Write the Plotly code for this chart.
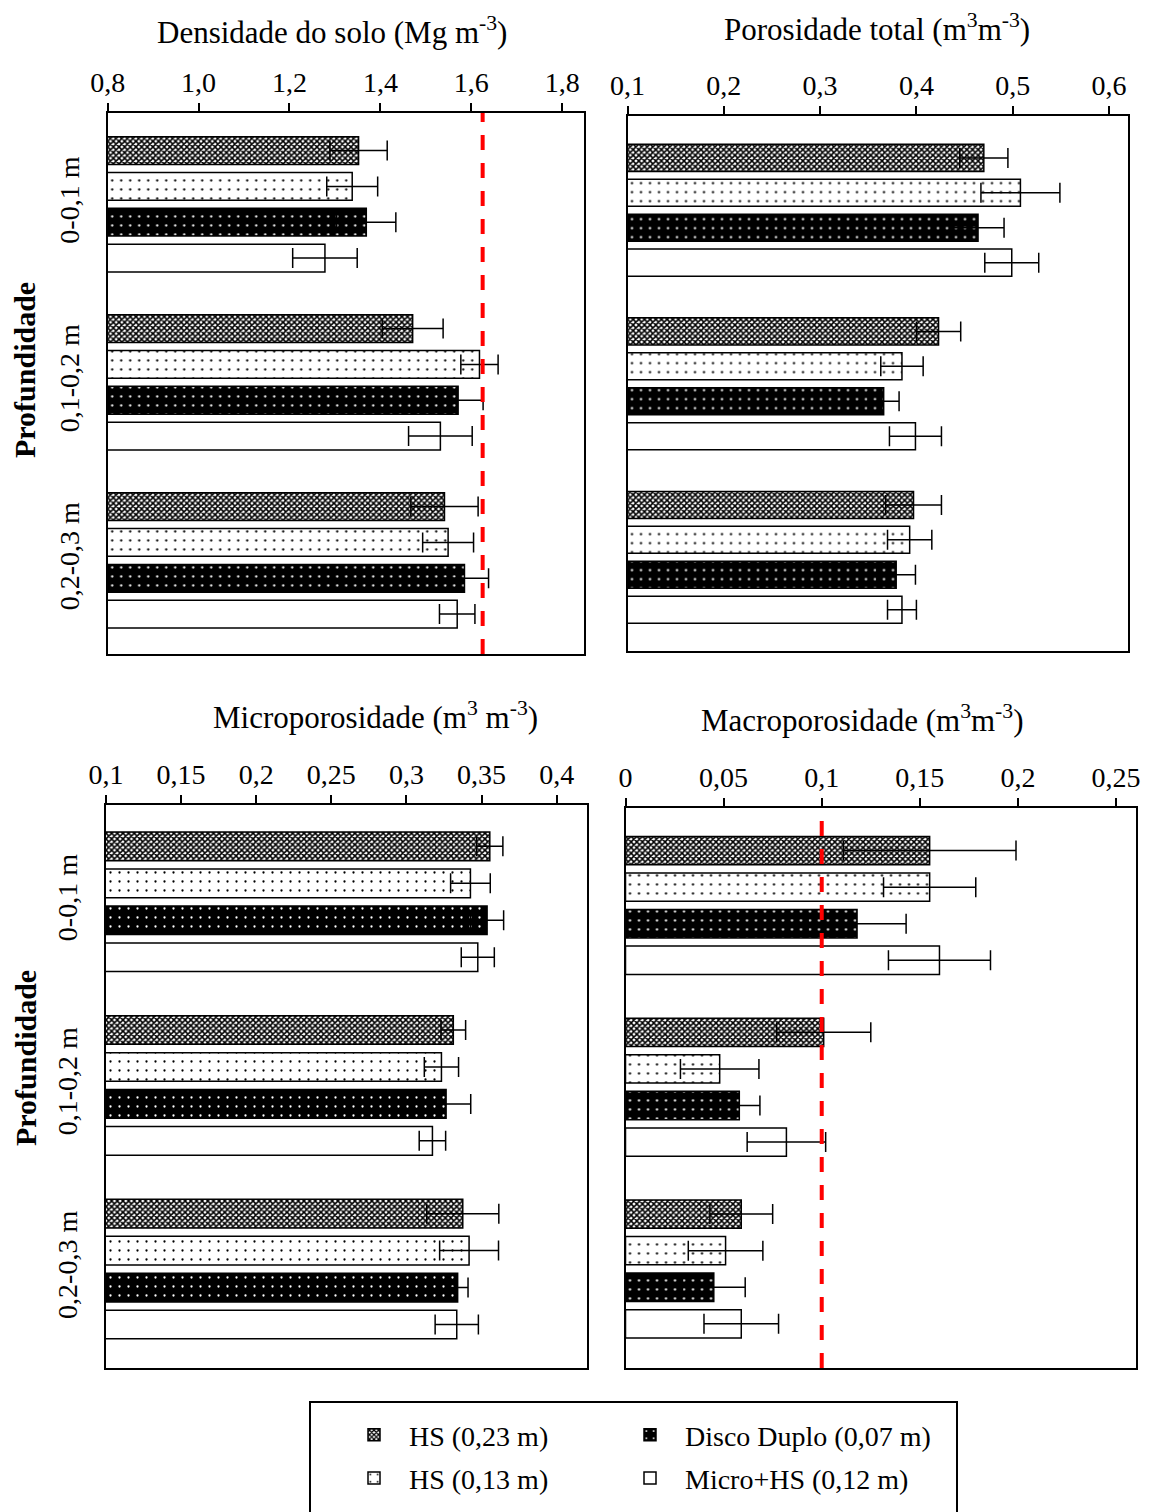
import plotly.graph_objects as go

# ---------------- data ----------------
depths = ["0-0,1 m", "0,1-0,2 m", "0,2-0,3 m"]
treatments = ["HS (0,23 m)", "HS (0,13 m)", "Disco Duplo (0,07 m)", "Micro+HS (0,12 m)"]

# Densidade do solo (Mg m-3)
dens_hs23 = [1.352, 1.471, 1.541]
dens_hs13 = [1.338, 1.618, 1.549]
dens_dd = [1.369, 1.571, 1.585]
dens_micro = [1.278, 1.532, 1.569]
dens_hs23_err = [0.063, 0.067, 0.074]
dens_hs13_err = [0.056, 0.041, 0.056]
dens_dd_err = [0.065, 0.055, 0.053]
dens_micro_err = [0.071, 0.070, 0.039]
dens_ref = 1.625

# Porosidade total (m3 m-3)
pt_hs23 = [0.470, 0.423, 0.397]
pt_hs13 = [0.508, 0.385, 0.393]
pt_dd = [0.464, 0.366, 0.379]
pt_micro = [0.499, 0.399, 0.385]
pt_hs23_err = [0.025, 0.023, 0.029]
pt_hs13_err = [0.041, 0.022, 0.023]
pt_dd_err = [0.027, 0.016, 0.020]
pt_micro_err = [0.028, 0.027, 0.015]

# Microporosidade (m3 m-3)
mi_hs23 = [0.3555, 0.3312, 0.3375]
mi_hs13 = [0.3426, 0.3233, 0.3417]
mi_dd = [0.3537, 0.3264, 0.3341]
mi_micro = [0.3475, 0.3173, 0.3335]
mi_hs23_err = [0.0087, 0.0082, 0.024]
mi_hs13_err = [0.0132, 0.0114, 0.0196]
mi_dd_err = [0.011, 0.0164, 0.0069]
mi_micro_err = [0.011, 0.0088, 0.0144]

# Macroporosidade (m3 m-3)
ma_hs23 = [0.155, 0.101, 0.059]
ma_hs13 = [0.155, 0.048, 0.051]
ma_dd = [0.118, 0.058, 0.045]
ma_micro = [0.160, 0.082, 0.059]
ma_hs23_err = [0.044, 0.024, 0.016]
ma_hs13_err = [0.0235, 0.020, 0.019]
ma_dd_err = [0.025, 0.0105, 0.016]
ma_micro_err = [0.026, 0.020, 0.019]
ma_ref = 0.10

# tick labels
dens_tickvals = [0.8, 1.0, 1.2, 1.4, 1.6, 1.8]
dens_ticktext = ["0,8", "1,0", "1,2", "1,4", "1,6", "1,8"]
pt_tickvals = [0.1, 0.2, 0.3, 0.4, 0.5, 0.6]
pt_ticktext = ["0,1", "0,2", "0,3", "0,4", "0,5", "0,6"]
mi_tickvals = [0.1, 0.15, 0.2, 0.25, 0.3, 0.35, 0.4]
mi_ticktext = ["0,1", "0,15", "0,2", "0,25", "0,3", "0,35", "0,4"]
ma_tickvals = [0, 0.05, 0.1, 0.15, 0.2, 0.25]
ma_ticktext = ["0", "0,05", "0,1", "0,15", "0,2", "0,25"]

titles = ["Densidade do solo (Mg m<sup>-3</sup>)",
          "Porosidade total (m<sup>3</sup>m<sup>-3</sup>)",
          "Microporosidade (m<sup>3</sup> m<sup>-3</sup>)",
          "Macroporosidade (m<sup>3</sup>m<sup>-3</sup>)"]
ylabel = "Profundidade"

# ---------------- styling ----------------
W, H = 1154, 1512
FONT = "Liberation Serif"

def px_x(v):
    return v / W

def px_y(v):
    return 1 - v / H

patterns = [
    dict(shape="x", size=4, solidity=0.62, fgcolor="black", bgcolor="white", fillmode="replace"),
    dict(shape=".", size=9, solidity=0.05, fgcolor="black", bgcolor="white", fillmode="replace"),
    dict(shape=".", size=9, solidity=0.05, fgcolor="white", bgcolor="black", fillmode="replace"),
    dict(shape="", fgcolor="black", bgcolor="white"),
]
fills = ["white", "white", "black", "white"]
legends = ["legend", "legend", "legend2", "legend2"]

panels = [
    dict(vals=[dens_hs23, dens_hs13, dens_dd, dens_micro],
         errs=[dens_hs23_err, dens_hs13_err, dens_dd_err, dens_micro_err],
         xdom=[px_x(107.7), px_x(584)], ydom=[px_y(654), px_y(113)],
         xrange=[0.8, 1.848], tv=dens_tickvals, tt=dens_ticktext,
         yrange=[2.526, -0.513], ylab=True, title=(332, 30)),
    dict(vals=[pt_hs23, pt_hs13, pt_dd, pt_micro],
         errs=[pt_hs23_err, pt_hs13_err, pt_dd_err, pt_micro_err],
         xdom=[px_x(627.5), px_x(1127.7)], ydom=[px_y(651), px_y(115.7)],
         xrange=[0.1, 0.6194], tv=pt_tickvals, tt=pt_ticktext,
         yrange=[2.54, -0.545], ylab=False, title=(877, 28)),
    dict(vals=[mi_hs23, mi_hs13, mi_dd, mi_micro],
         errs=[mi_hs23_err, mi_hs13_err, mi_dd_err, mi_micro_err],
         xdom=[px_x(106), px_x(586.7)], ydom=[px_y(1367.7), px_y(805)],
         xrange=[0.1, 0.42], tv=mi_tickvals, tt=mi_ticktext,
         yrange=[2.537, -0.527], ylab=True, title=(375, 715)),
    dict(vals=[ma_hs23, ma_hs13, ma_dd, ma_micro],
         errs=[ma_hs23_err, ma_hs13_err, ma_dd_err, ma_micro_err],
         xdom=[px_x(625.5), px_x(1135.7)], ydom=[px_y(1368), px_y(808)],
         xrange=[0, 0.26], tv=ma_tickvals, tt=ma_ticktext,
         yrange=[2.545, -0.536], ylab=False, title=(862, 718)),
]

fig = go.Figure()
layout = dict(
    template="none",
    width=W, height=H, margin=dict(l=0, r=0, t=0, b=0, autoexpand=False),
    paper_bgcolor="white", plot_bgcolor="white",
    font=dict(family=FONT, size=27, color="black"),
    barmode="group", bargap=0.195, bargroupgap=0.225,
    annotations=[], shapes=[],
)

for p, pan in enumerate(panels):
    sfx = "" if p == 0 else str(p + 1)
    xref, yref = "x" + sfx, "y" + sfx
    for t in range(4):
        fig.add_trace(go.Bar(
            y=depths, x=pan["vals"][t], orientation="h",
            name=treatments[t], xaxis=xref, yaxis=yref,
            marker=dict(color=fills[t], pattern=patterns[t],
                        line=dict(color="black", width=1.5)),
            error_x=dict(type="data", array=pan["errs"][t], symmetric=True,
                         color="black", thickness=1.5, width=10),
            showlegend=(p == 0), legend=legends[t], legendgroup=treatments[t],
        ))
    layout["xaxis" + sfx] = dict(
        domain=pan["xdom"], anchor=yref, side="top", range=pan["xrange"],
        tickvals=pan["tv"], ticktext=pan["tt"], ticks="outside", ticklen=8,
        tickwidth=1.5, tickcolor="black", showline=True, linecolor="black",
        linewidth=1.5, mirror=True, showgrid=False, zeroline=False,
        tickfont=dict(size=28), automargin=False,
    )
    layout["yaxis" + sfx] = dict(
        domain=pan["ydom"], anchor=xref, type="category",
        categoryorder="array", categoryarray=depths, range=pan["yrange"],
        showline=True, linecolor="black", linewidth=1.5, mirror=True,
        showgrid=False, zeroline=False, ticks="",
        showticklabels=pan["ylab"], tickangle=-90, ticklabelstandoff=16,
        tickfont=dict(size=28), automargin=False,
    )
    tx, ty = pan["title"]
    layout["annotations"].append(dict(
        text=titles[p], x=px_x(tx), y=px_y(ty), xref="paper", yref="paper",
        showarrow=False, xanchor="center", yanchor="middle",
        font=dict(size=31)))

# inward tick marks on the macroporosity axis (ticks cross the axis line there)
layout["xaxis5"] = dict(
    domain=panels[3]["xdom"], anchor="y4", overlaying="x4", side="top",
    range=panels[3]["xrange"], tickvals=ma_tickvals, showticklabels=False,
    ticks="inside", ticklen=9, tickwidth=1.5, tickcolor="black",
    showline=False, showgrid=False, zeroline=False, automargin=False,
)

# "Profundidade" labels
for cy in (370, 1058):
    layout["annotations"].append(dict(
        text="<b>" + ylabel + "</b>", x=px_x(25), y=px_y(cy), xref="paper",
        yref="paper", showarrow=False, textangle=-90, xanchor="center",
        yanchor="middle", font=dict(size=30)))

# reference lines
layout["shapes"].append(dict(type="line", xref="x", yref="y domain",
                             x0=dens_ref, x1=dens_ref, y0=0, y1=1,
                             line=dict(color="#ff0000", width=4, dash="15px,13px")))
layout["shapes"].append(dict(type="line", xref="x4", yref="y4 domain",
                             x0=ma_ref, x1=ma_ref, y0=0, y1=1,
                             line=dict(color="#ff0000", width=4, dash="15px,13px")))
# legend box
layout["shapes"].append(dict(type="rect", xref="paper", yref="paper",
                             x0=px_x(310), x1=px_x(957), y0=px_y(1515), y1=px_y(1402),
                             line=dict(color="black", width=2), fillcolor="rgba(0,0,0,0)"))

layout["legend"] = dict(x=px_x(339), y=px_y(1410), xanchor="left", yanchor="top",
                        bgcolor="rgba(0,0,0,0)", font=dict(size=28), itemwidth=60,
                        traceorder="grouped", tracegroupgap=4)
layout["legend2"] = dict(x=px_x(615), y=px_y(1410), xanchor="left", yanchor="top",
                         bgcolor="rgba(0,0,0,0)", font=dict(size=28), itemwidth=60,
                         traceorder="grouped", tracegroupgap=4)

fig.update_layout(**layout)
fig.write_html("out.html")
